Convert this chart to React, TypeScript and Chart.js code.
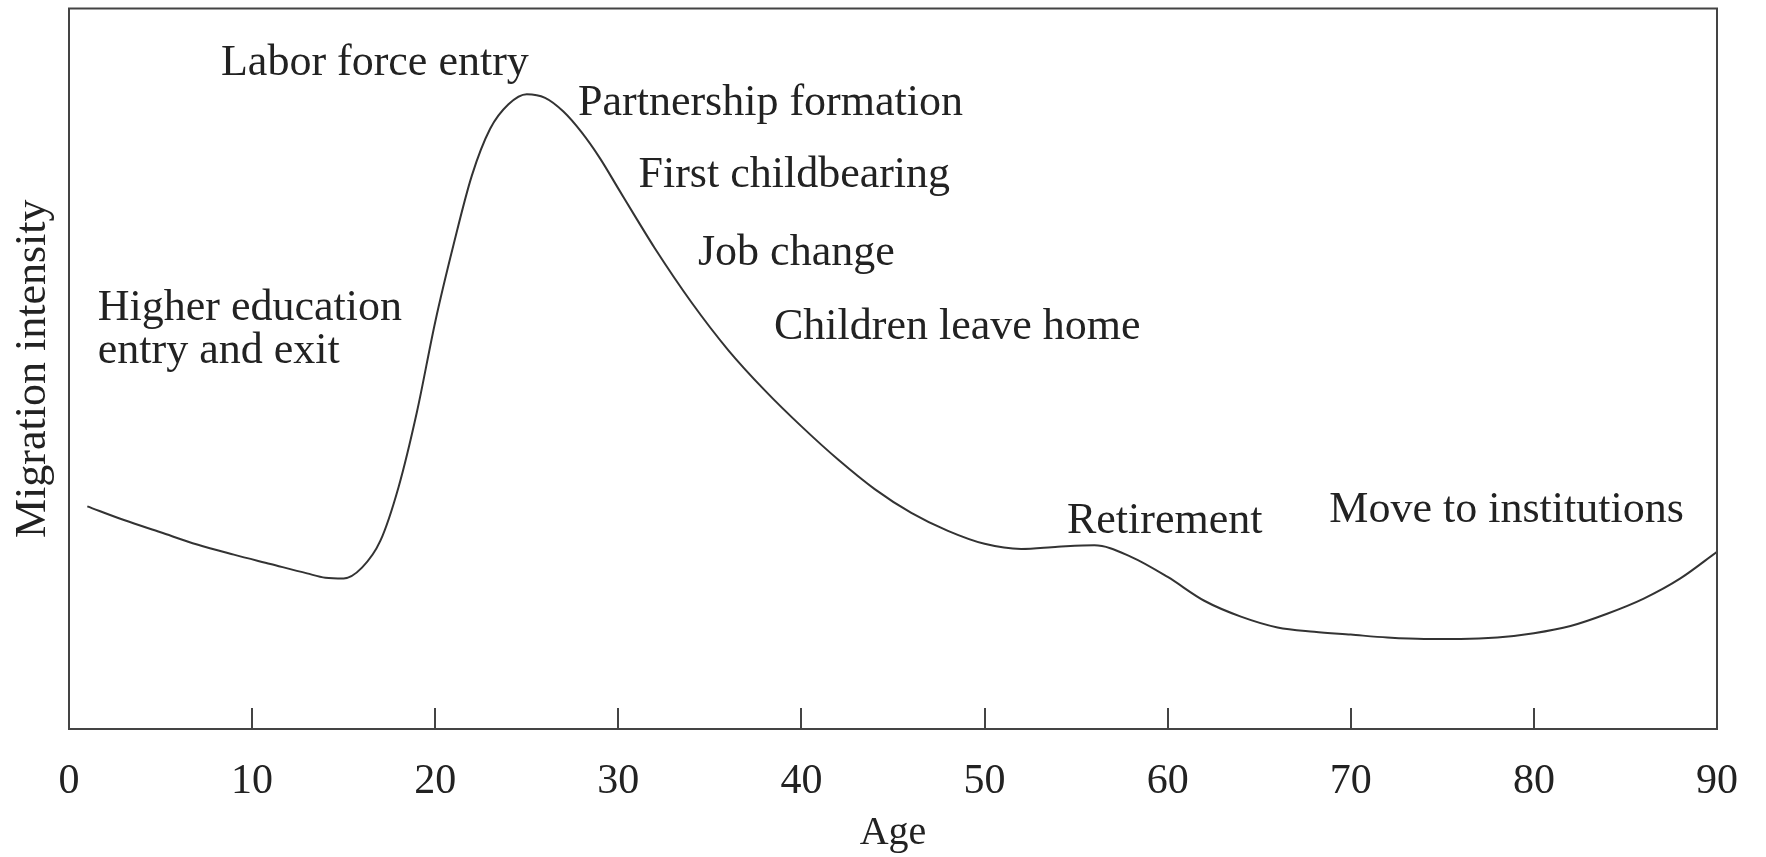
import React, { useEffect, useRef } from "react";
import { Chart, registerables } from "chart.js";

Chart.register(...registerables);

// Age (years) of each sampled point on the curve
const ages = [1, 3, 5, 7, 9, 11, 13, 14, 15, 16, 17, 18, 19, 20, 21, 22, 23, 24, 25, 26, 27, 28, 29, 30, 31, 32, 34, 36, 38, 40, 42, 44, 46, 48, 50, 52, 54, 56, 58, 60, 62, 64, 66, 68, 70, 72, 74, 76, 78, 80, 82, 84, 86, 88, 90];
// Migration intensity (relative units, 0-100)
const intensity = [30.9, 29.0, 27.3, 25.6, 24.2, 22.9, 21.6, 21.0, 20.9, 22.4, 26.1, 33.6, 44.0, 56.5, 67.2, 76.8, 83.3, 86.7, 88.1, 87.6, 85.7, 82.8, 79.2, 75.0, 70.8, 66.7, 59.2, 52.6, 47.0, 42.0, 37.4, 33.3, 30.0, 27.5, 25.7, 25.0, 25.3, 25.5, 23.9, 21.1, 17.8, 15.6, 14.1, 13.5, 13.1, 12.7, 12.5, 12.5, 12.7, 13.3, 14.3, 16.0, 18.1, 20.9, 24.6];

const xTickValues = [0, 10, 20, 30, 40, 50, 60, 70, 80, 90];

// Life-course event labels (text, anchored at left baseline in data units)
const eventTexts = ["Labor force entry", "Partnership formation", "First childbearing", "Job change", "Children leave home", "Higher education", "entry and exit", "Retirement", "Move to institutions"];
const eventAges = [8.3, 27.8, 31.1, 34.35, 38.5, 1.57, 1.57, 54.5, 68.83];
const eventLevels = [90.8, 85.2, 75.2, 64.4, 54.1, 56.8, 50.8, 27.2, 28.7];

const FONT = '"Liberation Serif", "Times New Roman", serif';
const TEXT_COLOR = "#222222";

const framePlugin = {
  id: "frameAndLabels",
  afterDatasetsDraw(chart: any) {
    const { ctx, chartArea, scales } = chart;
    const x = scales.x;
    const y = scales.y;
    ctx.save();
    // frame
    ctx.strokeStyle = "#444444";
    ctx.lineWidth = 2;
    ctx.strokeRect(chartArea.left, chartArea.top, chartArea.right - chartArea.left, chartArea.bottom - chartArea.top);
    // inner tick marks
    ctx.beginPath();
    x.ticks.forEach((t: any) => {
      if (t.value <= x.min || t.value >= x.max) return;
      const px = Math.round(x.getPixelForValue(t.value));
      ctx.moveTo(px, chartArea.bottom);
      ctx.lineTo(px, chartArea.bottom - 21);
    });
    ctx.stroke();
    // event labels
    ctx.fillStyle = TEXT_COLOR;
    ctx.font = `44px ${FONT}`;
    ctx.textAlign = "left";
    ctx.textBaseline = "alphabetic";
    eventTexts.forEach((txt, i) => {
      ctx.fillText(txt, x.getPixelForValue(eventAges[i]), y.getPixelForValue(eventLevels[i]));
    });
    ctx.restore();
  },
};

export default function App() {
  const ref = useRef<HTMLCanvasElement | null>(null);

  useEffect(() => {
    if (!ref.current) return;
    const chart = new Chart(ref.current, {
      type: "line",
      data: {
        datasets: [
          {
            data: ages.map((a, i) => ({ x: a, y: intensity[i] })),
            borderColor: "#333333",
            borderWidth: 2,
            pointRadius: 0,
            cubicInterpolationMode: "monotone",
            fill: false,
          },
        ],
      },
      options: {
        responsive: false,
        animation: false,
        devicePixelRatio: 1,
        layout: { padding: { top: 8.5, right: 39, left: 0, bottom: 0 } },
        plugins: { legend: { display: false }, tooltip: { enabled: false } },
        scales: {
          x: {
            type: "linear",
            min: 0,
            max: 90,
            afterBuildTicks: (scale: any) => {
              scale.ticks = xTickValues.map((v) => ({ value: v }));
            },
            afterFit: (scale: any) => {
              scale.height = 128;
            },
            grid: { display: false, drawTicks: false },
            border: { display: false },
            ticks: {
              padding: 28,
              color: TEXT_COLOR,
              font: { family: FONT, size: 42 },
              maxRotation: 0,
              autoSkip: false,
            },
            title: {
              display: true,
              text: "Age",
              color: TEXT_COLOR,
              font: { family: FONT, size: 40 },
              padding: { top: 0, bottom: 0 },
            },
          },
          y: {
            min: 0,
            max: 100,
            afterFit: (scale: any) => {
              scale.width = 69;
            },
            grid: { display: false, drawTicks: false },
            border: { display: false },
            ticks: { display: false },
            title: {
              display: true,
              text: "Migration intensity",
              color: TEXT_COLOR,
              font: { family: FONT, size: 44 },
              padding: { top: 7, bottom: 0 },
            },
          },
        },
      },
      plugins: [framePlugin],
    });
    return () => chart.destroy();
  }, []);

  return (
    <div style={{ position: "fixed", left: 0, top: 0, width: 1766, height: 857, background: "#ffffff" }}>
      <canvas ref={ref} width={1766} height={857} style={{ width: 1766, height: 857, display: "block" }} />
    </div>
  );
}
